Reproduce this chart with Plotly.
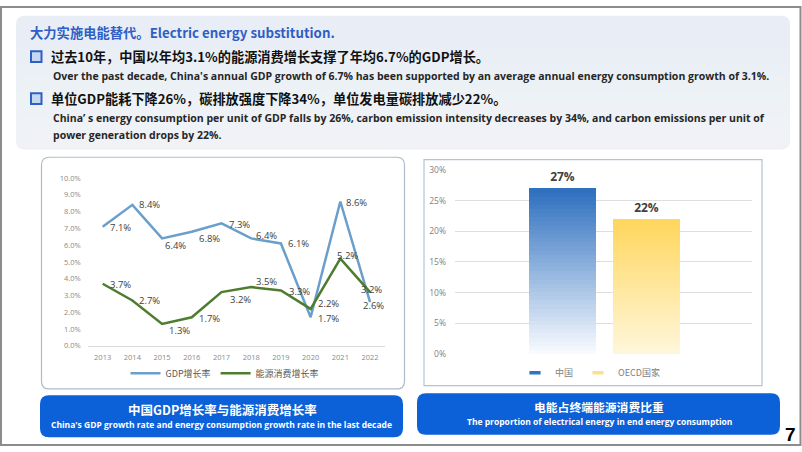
import plotly.graph_objects as go

W, H = 802, 452

# ---------------- data ----------------
years = ['2013', '2014', '2015', '2016', '2017', '2018', '2019', '2020', '2021', '2022']
gdp_growth = [7.1, 8.4, 6.4, 6.8, 7.3, 6.4, 6.1, 1.7, 8.6, 2.6]
energy_growth = [3.7, 2.7, 1.3, 1.7, 3.2, 3.5, 3.3, 2.2, 5.2, 3.2]

bar_cats = ['中国', 'OECD国家']
bar_share = [27, 22]

y1_ticks = [0, 1, 2, 3, 4, 5, 6, 7, 8, 9, 10]
y2_ticks = [0, 5, 10, 15, 20, 25, 30]

# data-label offsets in pixels (style only)
gdp_dx = [6, 6, 2, 6, 6, 4, 6, 6, 5, -8]
gdp_dy = [-1, 0, -7, -7, -1, 3, 0, -1, -1, -3]
energy_dx = [6, 6, 6, 6, 7, 4, 7, 6, -4, -10]
energy_dy = [-1, 0, -6, -1, -7, 6, -1, 5, 3, 3]


def px(x):
    return x / W


def py(y):
    return 1 - y / H


def rrect(x0, y0, x1, y1, r):
    rx, ry = r / W, r / H
    X0, X1 = px(x0), px(x1)
    T, B = py(y0), py(y1)
    return (f"M{X0+rx},{T} L{X1-rx},{T} Q{X1},{T} {X1},{T-ry} "
            f"L{X1},{B+ry} Q{X1},{B} {X1-rx},{B} L{X0+rx},{B} "
            f"Q{X0},{B} {X0},{B+ry} L{X0},{T-ry} Q{X0},{T} {X0+rx},{T} Z")


def mix(c1, c2, t):
    return 'rgb(%d,%d,%d)' % tuple(round(a + (b - a) * t) for a, b in zip(c1, c2))


CJK = 'Noto Sans CJK SC'
fig = go.Figure()

# ---------------- line chart ----------------
fig.add_trace(go.Scatter(
    x=years, y=gdp_growth, name='GDP增长率', mode='lines',
    line=dict(color='#6a9fcc', width=2.5),
    xaxis='x', yaxis='y', legend='legend', hoverinfo='skip'))
fig.add_trace(go.Scatter(
    x=years, y=energy_growth, name='能源消费增长率', mode='lines',
    line=dict(color='#4f7d30', width=2.5),
    xaxis='x', yaxis='y', legend='legend', hoverinfo='skip'))

# ---------------- bar chart (vertical gradient via overlaid layers) ----------------
tops = [(44, 110, 190), (255, 214, 92)]
bots = [(250, 252, 255), (255, 247, 220)]
legend_cols = ['#2e75c6', '#ffe08a']
N = 40
BW = 0.79
for i, (c, v) in enumerate(zip(bar_cats, bar_share)):
    fig.add_trace(go.Bar(
        x=[c], y=[v], name=c, width=BW,
        marker=dict(color=mix(bots[i], tops[i], (N - 0.5) / N), line=dict(width=0)),
        text=[f'<b>{v}%</b>'], textposition='outside',
        textfont=dict(family='Open Sans', size=12, color='#404040'),
        cliponaxis=False, xaxis='x2', yaxis='y2', showlegend=False, hoverinfo='skip'))
for j in range(N - 1, 0, -1):
    t = (j - 0.5) / N
    fig.add_trace(go.Bar(
        x=bar_cats, y=[v * j / N for v in bar_share], width=BW,
        marker=dict(color=[mix(bots[k], tops[k], t) for k in range(2)], line=dict(width=0)),
        showlegend=False, xaxis='x2', yaxis='y2', hoverinfo='skip'))
# legend entries for the bar series (small dash swatches)
for c, col in zip(bar_cats, legend_cols):
    fig.add_trace(go.Scatter(
        x=[c], y=[None], name=c, mode='markers',
        marker=dict(symbol='line-ew', size=8, color=col, line=dict(color=col, width=3.5)),
        xaxis='x2', yaxis='y2', legend='legend2', hoverinfo='skip'))

# ---------------- shapes ----------------
shapes = []
# top text panel with soft vertical gradient
shapes.append(dict(type='path', xref='paper', yref='paper', path=rrect(16, 10, 790, 147, 9),
                   fillcolor='#e8edf6', line=dict(width=0), layer='below'))
for k in range(8):
    shapes.append(dict(type='path', xref='paper', yref='paper', path=rrect(16, 30 + k * 14, 790, 147, 9),
                       fillcolor='rgba(255,255,255,0.07)', line=dict(width=0), layer='below'))
# bullets
for cy in [52, 95]:
    shapes.append(dict(type='rect', xref='paper', yref='paper', x0=px(31), x1=px(41.5), y0=py(cy - 5.5), y1=py(cy + 5.5),
                       fillcolor='#c4d8f3', line=dict(color='#2f5fc4', width=2), layer='below'))
# chart panels
shapes.append(dict(type='path', xref='paper', yref='paper', path=rrect(41.5, 155, 404.5, 392.5, 8),
                   fillcolor='white', line=dict(color='#aebbc9', width=1.2), layer='below'))
shapes.append(dict(type='rect', xref='paper', yref='paper', x0=px(424), x1=px(762), y0=py(157.5), y1=py(389),
                   fillcolor='white', line=dict(color='#b3c3d1', width=1.2), layer='below'))
# caption buttons
shapes.append(dict(type='path', xref='paper', yref='paper', path=rrect(40, 399, 403, 442, 9),
                   fillcolor='#0c60d8', line=dict(width=0), layer='below'))
shapes.append(dict(type='path', xref='paper', yref='paper', path=rrect(417, 397, 780, 439.5, 9),
                   fillcolor='#0c60d8', line=dict(width=0), layer='below'))
# slide frame
shapes.append(dict(type='rect', xref='paper', yref='paper', x0=px(1), x1=px(800.5), y0=py(1), y1=py(450),
                   line=dict(color='#8c8c8c', width=2), fillcolor='rgba(0,0,0,0)', layer='above'))

# ---------------- annotations ----------------
ann = []
SUBF = dict(family='Open Sans', size=10.5, color='#262626')
ann.append(dict(text='<b>大力实施电能替代。Electric energy substitution.</b>', x=px(28), y=py(27),
                font=dict(family=CJK, size=13.3, color='#2f5fc4')))
ann.append(dict(text='<b>过去10年，中国以年均3.1%的能源消费增长支撑了年均6.7%的GDP增长。</b>', x=px(49), y=py(52),
                font=dict(family=CJK, size=13.2, color='#111111')))
ann.append(dict(text="<b>Over the past decade, China's annual GDP growth of 6.7% has been supported by an average annual energy consumption growth of 3.1%.</b>",
                x=px(51), y=py(72), font=SUBF))
ann.append(dict(text='<b>单位GDP能耗下降26%，碳排放强度下降34%，单位发电量碳排放减少22%。</b>', x=px(49), y=py(95),
                font=dict(family=CJK, size=13.2, color='#111111')))
ann.append(dict(text='<b>China’ s energy consumption per unit of GDP falls by 26%, carbon emission intensity decreases by 34%, and carbon emissions per unit of</b>',
                x=px(51), y=py(115), font=SUBF))
ann.append(dict(text='<b>power generation drops by 22%.</b>', x=px(51), y=py(132), font=SUBF))
for a in ann:
    a.update(xref='paper', yref='paper', xanchor='left', yanchor='middle', showarrow=False)

caps = [
    dict(text='<b>中国GDP增长率与能源消费增长率</b>', x=px(222), y=py(414), font=dict(family=CJK, size=12.5, color='white')),
    dict(text="<b>China's GDP growth rate and energy consumption growth rate in the last decade</b>", x=px(221), y=py(429),
         font=dict(family='Open Sans', size=8.5, color='white')),
    dict(text='<b>电能占终端能源消费比重</b>', x=px(599), y=py(411), font=dict(family=CJK, size=11.8, color='white')),
    dict(text='<b>The proportion of electrical energy in end energy consumption</b>', x=px(599), y=py(426),
         font=dict(family='Open Sans', size=8.5, color='white')),
    dict(text='<b>7</b>', x=px(790), y=py(439), font=dict(family='Liberation Sans', size=19, color='black')),
]
for a in caps:
    a.update(xref='paper', yref='paper', xanchor='center', yanchor='middle', showarrow=False)
ann += caps

# data labels for the line chart (x given as category index)
LBLF = dict(family='Open Sans', size=9.5, color='#404040')
for series, dxs, dys in [(gdp_growth, gdp_dx, gdp_dy), (energy_growth, energy_dx, energy_dy)]:
    for idx, (v, dx, dy) in enumerate(zip(series, dxs, dys)):
        ann.append(dict(text=f'{v:.1f}%', x=idx, y=v, xref='x', yref='y', xanchor='left', yanchor='middle',
                        xshift=dx, yshift=dy, showarrow=False, font=LBLF, borderpad=0))

TICKF = dict(family='Open Sans', size=7.5, color='#8a8a8a')
fig.update_layout(
    width=W, height=H, margin=dict(l=0, r=0, t=0, b=0),
    paper_bgcolor='white', plot_bgcolor='rgba(0,0,0,0)',
    barmode='overlay', bargap=0,
    shapes=shapes, annotations=ann,
    xaxis=dict(domain=[px(87.8), px(384.9)], type='category', range=[-0.5, 9.5],
               showgrid=False, zeroline=False, showline=True, linecolor='#d9d9d9', linewidth=1,
               ticks='', tickfont=TICKF, ticklabelstandoff=4, fixedrange=True),
    yaxis=dict(domain=[py(348.3), py(176.3)], range=[0, 10], tickvals=y1_ticks,
               ticktext=[f'{v:.1f}%' for v in y1_ticks],
               showgrid=False, zeroline=False, showline=False, ticks='', tickfont=TICKF,
               ticklabelstandoff=6, fixedrange=True),
    xaxis2=dict(domain=[px(455), px(752)], type='category', range=[-1.269, 2.246], anchor='y2',
                showticklabels=False, showgrid=False, zeroline=False, showline=False, fixedrange=True),
    yaxis2=dict(domain=[py(356.7), py(168)], range=[0, 30], tickvals=y2_ticks,
                ticktext=[f'{v}%' for v in y2_ticks], anchor='x2',
                showgrid=True, gridcolor='#dedede', gridwidth=1, zeroline=False, showline=False,
                ticks='', tickfont=dict(family='Open Sans', size=8.5, color='#7f7f7f'),
                ticklabelstandoff=8, fixedrange=True),
    legend=dict(orientation='h', x=px(225), xanchor='center', y=py(376.5), yanchor='middle',
                font=dict(family=CJK, size=9, color='#595959'), bgcolor='rgba(0,0,0,0)',
                itemwidth=30, tracegroupgap=0),
    legend2=dict(orientation='h', x=px(590), xanchor='center', y=py(376), yanchor='middle',
                 font=dict(family=CJK, size=9, color='#7f7f7f'), bgcolor='rgba(0,0,0,0)',
                 itemwidth=30),
)

fig.write_html('out.html')
